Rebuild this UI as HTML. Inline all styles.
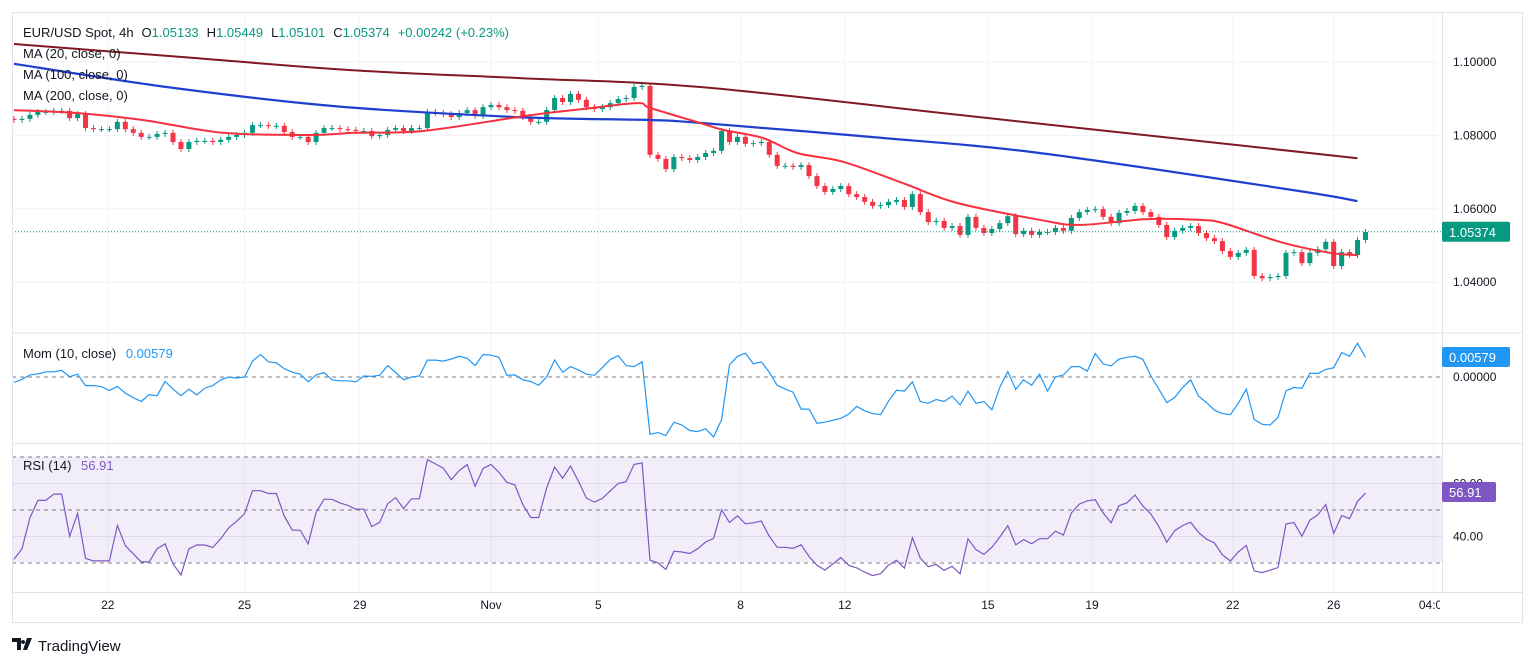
<!DOCTYPE html>
<html><head><meta charset="utf-8"><style>
html,body{margin:0;padding:0;background:#fff;}
svg{display:block;font-family:"Liberation Sans",sans-serif;}
</style></head><body>
<svg id="c" width="1536" height="667" viewBox="0 0 1536 667">
<rect x="0" y="0" width="1536" height="667" fill="#fff"/>
<defs><clipPath id="plot"><rect x="12" y="12" width="1428" height="610"/></clipPath>
<clipPath id="mainc"><rect x="12" y="12" width="1430" height="321"/></clipPath>
<clipPath id="momc"><rect x="12" y="334" width="1430" height="109"/></clipPath>
<clipPath id="rsic"><rect x="12" y="444" width="1430" height="148"/></clipPath></defs>
<g id="grid"></g>
<rect x="12" y="457" width="1430" height="105" fill="rgba(126,87,194,0.1)"/>
<g id="marks"></g>
<line x1="12" y1="333" x2="1523" y2="333" stroke="#e0e3eb" stroke-width="1"/>
<line x1="12" y1="443.5" x2="1523" y2="443.5" stroke="#e0e3eb" stroke-width="1"/>
<line x1="12" y1="592.5" x2="1523" y2="592.5" stroke="#e0e3eb" stroke-width="1"/>
<line x1="1442.5" y1="12" x2="1442.5" y2="592" stroke="#e0e3eb" stroke-width="1"/>
<rect x="12.5" y="12.5" width="1510" height="610" fill="none" stroke="#e0e3eb"/>
<g id="axis" font-size="12" fill="#131722"></g>
<g font-size="13" fill="#131722">
<text x="23" y="37"><tspan>EUR/USD Spot, 4h</tspan><tspan dx="8">O</tspan><tspan fill="#089981">1.05133</tspan><tspan dx="8">H</tspan><tspan fill="#089981">1.05449</tspan><tspan dx="8">L</tspan><tspan fill="#089981">1.05101</tspan><tspan dx="8">C</tspan><tspan fill="#089981">1.05374</tspan><tspan dx="8" fill="#089981">+0.00242 (+0.23%)</tspan></text>
<text x="23" y="58">MA (20, close, 0)</text>
<text x="23" y="79">MA (100, close, 0)</text>
<text x="23" y="100">MA (200, close, 0)</text>
<text x="23" y="358">Mom (10, close) <tspan dx="6" fill="#2196f3">0.00579</tspan></text>
<text x="23" y="470">RSI (14) <tspan dx="6" fill="#7e57c2">56.91</tspan></text>
</g>
<g>
<path d="M12 638h9v12h-4v-8h-5z M23 640a2 2 0 1 0 0.1 0z M27 638h5l-5 12h-4z" fill="#131722"/>
<text x="38" y="651" font-size="15" fill="#131722">TradingView</text>
</g>
</svg>
<script>
const preCloses=[1.0870,1.0868,1.0872,1.0866,1.0862,1.0865,1.0860,1.0858,1.0861,1.0855,1.0858,1.0852,1.0850,1.0855,1.0849,1.0852,1.0848,1.0846,1.0850,1.0845];
const closes=[1.0842,1.0845,1.0856,1.0864,1.0864,1.0867,1.0867,1.0847,1.0858,1.0820,1.0817,1.0817,1.0817,1.0837,1.0817,1.0807,1.0796,1.0796,1.0804,1.0807,1.0782,1.0763,1.0782,1.0785,1.0785,1.0782,1.0788,1.0796,1.0801,1.0807,1.0828,1.0828,1.0826,1.0826,1.0809,1.0796,1.0796,1.0782,1.0807,1.0820,1.0820,1.0817,1.0815,1.0812,
1.0812,1.0798,1.0801,1.0815,1.0820,1.0812,1.0820,1.0820,1.0864,1.0861,1.0858,1.0850,1.0861,1.0869,1.0853,1.0877,1.0883,1.0877,1.0869,1.0867,1.0850,1.0837,1.0837,1.0869,1.0902,1.0891,1.0913,1.0897,1.0877,1.0872,1.0877,1.0888,1.0899,1.0902,1.0932,1.0935,1.0747,1.0736,1.0708,1.0741,1.0738,1.0733,1.0741,
1.0752,1.0758,1.0812,1.0782,1.0796,1.0777,1.0779,1.0782,1.0747,1.0717,1.0717,1.0714,1.0719,1.0689,1.0662,1.0646,1.0654,1.0662,1.0640,1.0632,1.0619,1.0608,1.0610,1.0619,1.0624,1.0605,1.0640,1.0591,1.0564,1.0567,1.0548,1.0553,1.0529,1.0578,1.0548,1.0534,1.0545,1.0561,1.0580,1.0531,1.0540,1.0529,1.0537,
1.0537,1.0548,1.0540,1.0575,1.0591,1.0597,1.0599,1.0578,1.0561,1.0589,1.0594,1.0608,1.0591,1.0578,1.0556,1.0523,1.0540,1.0548,1.0553,1.0534,1.0520,1.0512,1.0485,1.0469,1.0480,1.0488,1.0417,1.0411,1.0414,1.0417,1.0480,1.0482,1.0452,1.0480,1.0490,1.0510,1.0444,1.0482,1.0474,1.0515,1.0537];
const ma20Idx=[0,7.9,16.2,26.3,37.2,42.9,51.4,63.3,67,71.6,78.4,80,86.3,89.2,94.2,98.5,104.3,111.8,118.6,129,134.1,142.5,148.8,152.1,159.2,165.5,169];
const ma20Vals=[1.0869,1.0861,1.0842,1.0807,1.0801,1.0807,1.0812,1.0850,1.0861,1.0872,1.0888,1.0875,1.0834,1.0815,1.0793,1.0752,1.0728,1.0670,1.0616,1.0570,1.0556,1.0572,1.0570,1.0561,1.0510,1.0480,1.0474];
const ma100Idx=[0,19.2,40.1,63.3,80,86.3,107.7,129,160.9,169];
const ma100Vals=[1.0995,1.0932,1.0880,1.0850,1.0842,1.0834,1.0796,1.0752,1.0651,1.0621];
const ma200Idx=[0,20.9,42.3,63.6,86.3,120,169];
const ma200Vals=[1.1049,1.1014,1.0978,1.0956,1.0932,1.0853,1.0738];
const priceTicks=[1.10,1.08,1.06,1.04];
const timeLabels=["22","25","29","Nov","5","8","12","15","19","22","26","04:00"];
const timeIdx=[11.8,29,43.5,60,73.5,91.4,104.5,122.5,135.6,153.3,166,178.6];
const lastPrice=1.05374;

const NS="http://www.w3.org/2000/svg";
const X=i=>14+i*7.95;
const yP=p=>62+(1.10-p)*3670;
const yM=v=>377-v*3454;
const yR=r=>510-(r-50)*2.65;
function mk(tag,attrs,parent){const e=document.createElementNS(NS,tag);for(const k in attrs)e.setAttribute(k,attrs[k]);parent.appendChild(e);return e;}
const grid=document.getElementById('grid'),marks=document.getElementById('marks'),axis=document.getElementById('axis');

priceTicks.forEach(p=>{
 const g=mk('line',{x1:12,x2:1442,y1:yP(p),y2:yP(p),stroke:'#f0f3fa'},grid);
 
 
 const t=mk('text',{x:1453,y:yP(p)+4},axis);t.textContent=p.toFixed(5);
 
 
});
[60,40].forEach(r=>{
 const g=mk('line',{x1:12,x2:1442,y1:yR(r),y2:yR(r),stroke:'#e9e6f2'},grid);
 
 
});
timeIdx.forEach((ti,k)=>{
 const x=X(ti);
 if(x<1442){const g=mk('line',{x1:x,x2:x,y1:12,y2:592,stroke:'#f0f3fa'},grid);
 
 }
 const t=mk('text',{x:x,y:609,'text-anchor':'middle','clip-path':'url(#plot)'},axis);t.textContent=timeLabels[k];
 
 
});

const mg=mk('g',{'clip-path':'url(#mainc)'},marks);
closes.forEach((c,i)=>{
 const o=i===0?preCloses[preCloses.length-1]:closes[i-1];
 const up=c>=o,col=up?'#089981':'#f23645',x=X(i);
 const top=yP(Math.max(o,c)),bot=yP(Math.min(o,c));
 const w=mk('line',{x1:x,x2:x,y1:top-3,y2:bot+3,stroke:col,'stroke-width':1},mg);
 
 
 const b=mk('rect',{x:x-2.5,y:top,width:5,height:Math.max(1,bot-top),fill:col},mg);
 
 
});
function smoothPath(pts){
 let d='M'+pts[0][0].toFixed(1)+','+pts[0][1].toFixed(1);
 for(let k=0;k<pts.length-1;k++){
  const p0=pts[Math.max(0,k-1)],p1=pts[k],p2=pts[k+1],p3=pts[Math.min(pts.length-1,k+2)];
  const c1=[p1[0]+(p2[0]-p0[0])/6,p1[1]+(p2[1]-p0[1])/6],c2=[p2[0]-(p3[0]-p1[0])/6,p2[1]-(p3[1]-p1[1])/6];
  d+='C'+c1[0].toFixed(1)+','+c1[1].toFixed(1)+' '+c2[0].toFixed(1)+','+c2[1].toFixed(1)+' '+p2[0].toFixed(1)+','+p2[1].toFixed(1);
 }
 return d;
}
function line(idx,vals,col,w,name){
 const pts=idx.map((i,k)=>[X(i),yP(vals[k])]);
 const p=mk('path',{d:smoothPath(pts),fill:'none',stroke:col,'stroke-width':w,'stroke-linejoin':'round'},mg);
 
 
}
line(ma200Idx,ma200Vals,'#801922',2,'ma200-line');
line(ma100Idx,ma100Vals,'#1e3fd0',2.2,'ma100-line');
line(ma20Idx,ma20Vals,'#f7303f',2,'ma20-line');
const pl=mk('line',{x1:12,x2:1442,y1:yP(lastPrice),y2:yP(lastPrice),stroke:'#089981','stroke-dasharray':'1 2'},marks);



const all=preCloses.concat(closes),P=preCloses.length;
const mom=closes.map((c,i)=>c-all[P+i-10]);
const zl=mk('line',{x1:12,x2:1442,y1:yM(0),y2:yM(0),stroke:'#787b86','stroke-dasharray':'4 4'},marks);


const momD=mom.map((v,i)=>(i?'L':'M')+X(i).toFixed(1)+','+yM(v).toFixed(1)).join('');
const mp=mk('path',{d:momD,fill:'none',stroke:'#2196f3','stroke-width':1.2,'clip-path':'url(#momc)'},marks);


const z0=mk('text',{x:1453,y:yM(0)+4},axis);z0.textContent='0.00000';



let ag=0,al=0;const rsi=[];
for(let j=1;j<all.length;j++){
 const d=all[j]-all[j-1],g=Math.max(d,0),l=Math.max(-d,0);
 if(j<=14){ag+=g/14;al+=l/14;}else{ag=(ag*13+g)/14;al=(al*13+l)/14;}
 if(j>=P)rsi.push(al===0?100:100-100/(1+ag/al));
}
[70,50,30].forEach(r=>{
 const l=mk('line',{x1:12,x2:1442,y1:yR(r),y2:yR(r),stroke:'#787b86','stroke-dasharray':'4 4'},marks);
 
 
});
const rD=rsi.map((v,i)=>(i?'L':'M')+X(i).toFixed(1)+','+yR(v).toFixed(1)).join('');
const rp=mk('path',{d:rD,fill:'none',stroke:'#7e57c2','stroke-width':1.2,'clip-path':'url(#rsic)'},marks);


[60,40].forEach(r=>{const t=mk('text',{x:1453,y:yR(r)+4},axis);t.textContent=r.toFixed(2);
 
 });

function badge(y,txt,col,w,name){
 const g=mk('g',{},axis);
 
 
 mk('rect',{x:1442,y:y-10,width:w,height:20,rx:2,fill:col},g);
 const t=mk('text',{x:1449,y:y+5,fill:'#fff','font-size':13},g);t.textContent=txt;
}
badge(yP(lastPrice),'1.05374','#089981',68,'last-price-badge');
badge(357,'0.00579','#2196f3',68,'mom-value-badge');
badge(492,'56.91','#7e57c2',54,'rsi-value-badge');
</script>
</body></html>
